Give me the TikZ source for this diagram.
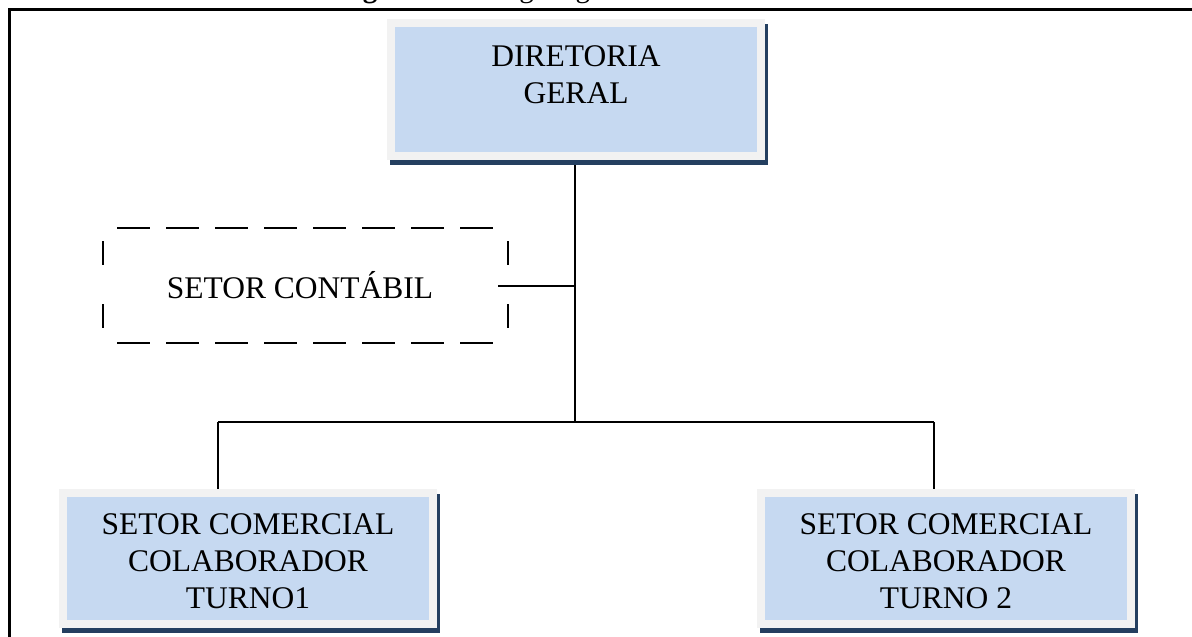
\documentclass[tikz,border=0pt]{standalone}
\usepackage{fontspec}
\setmainfont{Liberation Serif}
\usetikzlibrary{backgrounds}
\definecolor{boxblue}{HTML}{C6D9F1}
\definecolor{boxrim}{HTML}{F2F2F2}
\definecolor{shadowblue}{HTML}{243F60}
\begin{document}
\begin{tikzpicture}[x=1pt,y=-1pt,
  orgbox/.style={fill=boxblue, draw=boxrim, line width=8pt, outer sep=0pt, inner sep=0pt,
    minimum width=370pt, align=center, text=black,
    font=\fontsize{31.5}{37}\selectfont},
  topbox/.style={orgbox, minimum height=133pt},
  lowbox/.style={orgbox, minimum height=131pt},
  ghostbox/.style={outer sep=0pt, inner sep=0pt, minimum width=405pt, minimum height=115pt,
    text=black, font=\fontsize{31.5}{37}\selectfont},
  hdash/.style={draw=black, line width=1.3pt, dash pattern=on 33pt off 16pt, dash phase=35pt},
  vdash/.style={draw=black, line width=1.3pt, dash pattern=on 24pt off 39pt, dash phase=50pt},
  link/.style={draw=black, line width=1.6pt},
  frameline/.style={draw=black, line width=2.3pt},
  boxshadow/.style={fill=shadowblue},
  titlefont/.style={font=\fontsize{29}{34}\selectfont, inner sep=0pt, anchor=base west}
]
\useasboundingbox (0,0) rectangle (1192,637);

% caption, cut off by the top of the page
\begin{scope}
  \clip (0,0) rectangle (1192,637);
  \node[titlefont] (titleA) at (337,-2.3) {\textbf{Figura}};
  \node[titlefont] (titleB) at (489,-2.3) {Organograma};
\end{scope}

% frame
\draw[frameline] (9.5,637) -- (9.5,9.5) -- (1192,9.5);

% boxes
\node[topbox] (dir) at (576,89.5) {\rule{0pt}{27pt}DIRETORIA\\GERAL\\\mbox{}};
\node[lowbox] (t1) at (248,558.5) {\rule{0pt}{27pt}SETOR COMERCIAL\\COLABORADOR\\TURNO1};
\node[lowbox] (t2) at (946,558.5) {\rule{0pt}{27pt}SETOR COMERCIAL\\COLABORADOR\\TURNO 2};
\node[ghostbox] (cont) at (300,285.5) {SETOR CONTÁBIL};

% dashed border of the accounting box
\coordinate (cNW) at ([xshift=5.5pt]cont.north west);
\coordinate (cNE) at ([xshift=5.5pt]cont.north east);
\coordinate (cSW) at ([xshift=5.5pt]cont.south west);
\coordinate (cSE) at ([xshift=5.5pt]cont.south east);
\draw[hdash] (cNW) -- (cNE);
\draw[hdash] (cSW) -- (cSE);
\draw[vdash] (cNW) -- (cSW);
\draw[vdash] (cNE) -- (cSE);

% connector points
\coordinate (junction) at (575,422);
\coordinate (busL) at (218,422);
\coordinate (busR) at (934,422);
\coordinate (contout) at ([shift={(-4.5,0.5)}]cont.east);

\begin{scope}[on background layer]
  \draw[link] (dir.south -| junction) -- (junction);
  \draw[link] (contout) -- (junction |- contout);
  \draw[link] (busL) -- (busR);
  \draw[link] (busL) -- (busL |- t1.north);
  \draw[link] (busR) -- (busR |- t2.north);
  \fill[boxshadow] ([shift={(-1,1)}]dir.north west) rectangle ([shift={(7,9)}]dir.south east);
  \fill[boxshadow] ([shift={(-1,1)}]t1.north west) rectangle ([shift={(7,9)}]t1.south east);
  \fill[boxshadow] ([shift={(-1,1)}]t2.north west) rectangle ([shift={(7,9)}]t2.south east);
\end{scope}
\end{tikzpicture}
\end{document}
